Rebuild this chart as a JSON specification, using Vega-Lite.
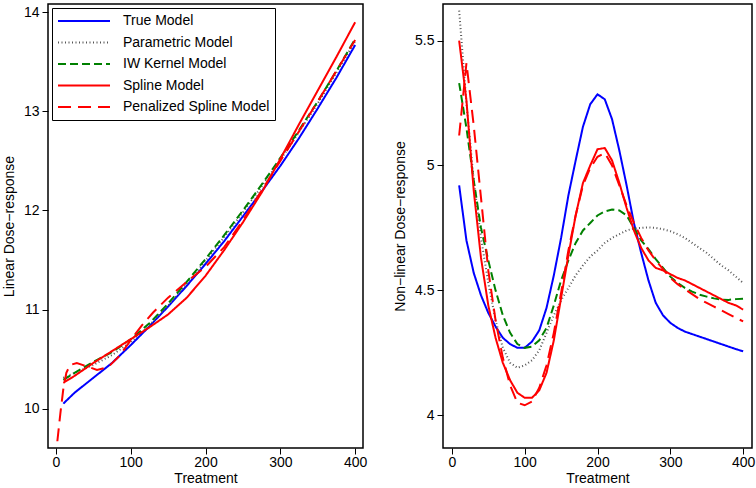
{
  "$schema": "https://vega.github.io/schema/vega-lite/v6.json",
  "background": "white",
  "padding": {"left": 1, "top": 3, "right": 0, "bottom": 0},
  "spacing": 24,
  "config": {
    "font": "Liberation Sans",
    "view": {"stroke": "black", "strokeWidth": 1.5},
    "axis": {"domain": false, "grid": false, "tickColor": "black", "tickSize": 6, "tickWidth": 1, "labelFontSize": 14, "labelColor": "black", "labelFont": "Liberation Sans", "titleFont": "Liberation Sans", "titleFontSize": 14, "titleFontWeight": "normal", "titleColor": "black", "labelPadding": 3},
    "axisX": {"titlePadding": 2, "labelPadding": 1},
    "axisY": {"titlePadding": 7}
  },
  "resolve": {"scale": {"color": "independent", "strokeDash": "independent"}, "legend": {"color": "independent", "strokeDash": "independent"}},
  "hconcat": [
    {
      "width": 315,
      "height": 444,
      "data": {"values": [
        {"t": 10, "True Model": 10.05, "Parametric Model": 10.31, "IW Kernel Model": 10.29, "Spline Model": 10.26, "Penalized Spline Model": 10.20},
        {"t": 2, "Penalized Spline Model": 9.67},
        {"t": 6, "Penalized Spline Model": 9.95},
        {"t": 14, "Penalized Spline Model": 10.36},
        {"t": 19, "Penalized Spline Model": 10.44},
        {"t": 25, "True Model": 10.16, "Parametric Model": 10.36, "IW Kernel Model": 10.36, "Spline Model": 10.33},
        {"t": 28, "Penalized Spline Model": 10.46},
        {"t": 40, "Penalized Spline Model": 10.43},
        {"t": 50, "True Model": 10.31, "Parametric Model": 10.44, "IW Kernel Model": 10.47, "Spline Model": 10.46},
        {"t": 55, "Penalized Spline Model": 10.39},
        {"t": 70, "Penalized Spline Model": 10.42},
        {"t": 75, "True Model": 10.46, "Parametric Model": 10.54, "IW Kernel Model": 10.57, "Spline Model": 10.58},
        {"t": 85, "Penalized Spline Model": 10.53},
        {"t": 100, "True Model": 10.64, "Parametric Model": 10.67, "IW Kernel Model": 10.70, "Spline Model": 10.70, "Penalized Spline Model": 10.69},
        {"t": 115, "Penalized Spline Model": 10.84},
        {"t": 125, "True Model": 10.83, "Parametric Model": 10.84, "IW Kernel Model": 10.86, "Spline Model": 10.82},
        {"t": 130, "Penalized Spline Model": 10.97},
        {"t": 150, "True Model": 11.03, "Parametric Model": 11.04, "IW Kernel Model": 11.06, "Spline Model": 10.95, "Penalized Spline Model": 11.12},
        {"t": 175, "True Model": 11.24, "Parametric Model": 11.26, "IW Kernel Model": 11.28, "Spline Model": 11.12, "Penalized Spline Model": 11.28},
        {"t": 200, "True Model": 11.46, "Parametric Model": 11.49, "IW Kernel Model": 11.51, "Spline Model": 11.34, "Penalized Spline Model": 11.43},
        {"t": 225, "True Model": 11.69, "Parametric Model": 11.73, "IW Kernel Model": 11.75, "Spline Model": 11.60, "Penalized Spline Model": 11.63},
        {"t": 250, "True Model": 11.94, "Parametric Model": 11.98, "IW Kernel Model": 12.00, "Spline Model": 11.88, "Penalized Spline Model": 11.90},
        {"t": 275, "True Model": 12.19, "Parametric Model": 12.24, "IW Kernel Model": 12.26, "Spline Model": 12.18, "Penalized Spline Model": 12.20},
        {"t": 300, "True Model": 12.45, "Parametric Model": 12.51, "IW Kernel Model": 12.53, "Spline Model": 12.52, "Penalized Spline Model": 12.50},
        {"t": 325, "True Model": 12.73, "Parametric Model": 12.79, "IW Kernel Model": 12.81, "Spline Model": 12.87, "Penalized Spline Model": 12.80},
        {"t": 350, "True Model": 13.03, "Parametric Model": 13.08, "IW Kernel Model": 13.10, "Spline Model": 13.21, "Penalized Spline Model": 13.10},
        {"t": 375, "True Model": 13.34, "Parametric Model": 13.39, "IW Kernel Model": 13.41, "Spline Model": 13.55, "Penalized Spline Model": 13.41},
        {"t": 400, "True Model": 13.67, "Parametric Model": 13.71, "IW Kernel Model": 13.73, "Spline Model": 13.90, "Penalized Spline Model": 13.72}
      ]},
      "transform": [
        {"fold": ["True Model", "Parametric Model", "IW Kernel Model", "Spline Model", "Penalized Spline Model"], "as": ["model", "v"]},
        {"filter": "isValid(datum.v)"}
      ],
      "mark": {"type": "line", "strokeWidth": 2, "clip": true},
      "encoding": {
        "x": {"field": "t", "type": "quantitative", "scale": {"domain": [-10.5, 410.5], "nice": false, "zero": false}, "axis": {"values": [0, 100, 200, 300, 400], "title": "Treatment"}},
        "y": {"field": "v", "type": "quantitative", "scale": {"domain": [9.602, 14.084], "nice": false, "zero": false}, "axis": {"values": [10, 11, 12, 13, 14], "title": "Linear Dose−response"}},
        "color": {"field": "model", "type": "nominal",
          "scale": {"domain": ["True Model", "Parametric Model", "IW Kernel Model", "Spline Model", "Penalized Spline Model"], "range": ["#0000ff", "#555555", "#008000", "#ff0000", "#ff0000"]},
          "legend": {"title": null, "orient": "none", "legendX": 4, "legendY": 4, "symbolType": "stroke", "symbolSize": 2704, "symbolStrokeWidth": 2, "clipHeight": 16, "labelFontSize": 14, "labelFont": "Liberation Sans", "labelColor": "black", "labelOffset": 12, "labelLimit": 300, "rowPadding": 5.5, "padding": 5, "strokeColor": "black", "fillColor": "white"}},
        "strokeDash": {"field": "model", "type": "nominal",
          "scale": {"domain": ["True Model", "Parametric Model", "IW Kernel Model", "Spline Model", "Penalized Spline Model"], "range": [[1, 0], [1, 2.5], [8, 4], [1, 0], [13, 7]]},
          "legend": {"title": null, "orient": "none", "legendX": 4, "legendY": 4, "symbolType": "stroke", "symbolSize": 2704, "symbolStrokeWidth": 2, "clipHeight": 16, "labelFontSize": 14, "labelFont": "Liberation Sans", "labelColor": "black", "labelOffset": 12, "labelLimit": 300, "rowPadding": 5.5, "padding": 5, "strokeColor": "black", "fillColor": "white"}}
      }
    },
    {
      "width": 309,
      "height": 444,
      "data": {"values": [
        {"t": 10, "True Model": 4.92, "Parametric Model": 5.62, "IW Kernel Model": 5.33, "Spline Model": 5.50, "Penalized Spline Model": 5.12},
        {"t": 20, "True Model": 4.70, "Parametric Model": 5.25, "IW Kernel Model": 5.15, "Spline Model": 5.26, "Penalized Spline Model": 5.41},
        {"t": 30, "True Model": 4.57, "Parametric Model": 4.94, "IW Kernel Model": 4.94, "Spline Model": 4.90, "Penalized Spline Model": 5.16},
        {"t": 40, "True Model": 4.48, "Parametric Model": 4.71, "IW Kernel Model": 4.75, "Spline Model": 4.63, "Penalized Spline Model": 4.87},
        {"t": 50, "True Model": 4.41, "Parametric Model": 4.53, "IW Kernel Model": 4.62, "Spline Model": 4.44, "Penalized Spline Model": 4.58},
        {"t": 60, "True Model": 4.355, "Parametric Model": 4.38, "IW Kernel Model": 4.50, "Spline Model": 4.31, "Penalized Spline Model": 4.38},
        {"t": 70, "True Model": 4.31, "Parametric Model": 4.27, "IW Kernel Model": 4.40, "Spline Model": 4.21, "Penalized Spline Model": 4.23},
        {"t": 80, "True Model": 4.285, "Parametric Model": 4.21, "IW Kernel Model": 4.33, "Spline Model": 4.14, "Penalized Spline Model": 4.12},
        {"t": 90, "True Model": 4.27, "Parametric Model": 4.19, "IW Kernel Model": 4.285, "Spline Model": 4.09, "Penalized Spline Model": 4.05},
        {"t": 100, "True Model": 4.27, "Parametric Model": 4.20, "IW Kernel Model": 4.27, "Spline Model": 4.07, "Penalized Spline Model": 4.04},
        {"t": 110, "True Model": 4.295, "Parametric Model": 4.22, "IW Kernel Model": 4.275, "Spline Model": 4.07, "Penalized Spline Model": 4.055},
        {"t": 120, "True Model": 4.34, "Parametric Model": 4.26, "IW Kernel Model": 4.30, "Spline Model": 4.10, "Penalized Spline Model": 4.11},
        {"t": 130, "True Model": 4.43, "Parametric Model": 4.33, "IW Kernel Model": 4.35, "Spline Model": 4.17, "Penalized Spline Model": 4.20},
        {"t": 140, "True Model": 4.56, "Parametric Model": 4.40, "IW Kernel Model": 4.44, "Spline Model": 4.30, "Penalized Spline Model": 4.33},
        {"t": 150, "True Model": 4.71, "Parametric Model": 4.46, "IW Kernel Model": 4.54, "Spline Model": 4.47, "Penalized Spline Model": 4.49},
        {"t": 160, "True Model": 4.88, "Parametric Model": 4.51, "IW Kernel Model": 4.62, "Spline Model": 4.64, "Penalized Spline Model": 4.66},
        {"t": 170, "True Model": 5.02, "Parametric Model": 4.56, "IW Kernel Model": 4.69, "Spline Model": 4.80, "Penalized Spline Model": 4.80},
        {"t": 180, "True Model": 5.155, "Parametric Model": 4.60, "IW Kernel Model": 4.74, "Spline Model": 4.93, "Penalized Spline Model": 4.92},
        {"t": 190, "True Model": 5.245, "Parametric Model": 4.635, "IW Kernel Model": 4.77, "Spline Model": 5.00, "Penalized Spline Model": 4.99},
        {"t": 200, "True Model": 5.285, "Parametric Model": 4.66, "IW Kernel Model": 4.80, "Spline Model": 5.065, "Penalized Spline Model": 5.035},
        {"t": 210, "True Model": 5.265, "Parametric Model": 4.69, "IW Kernel Model": 4.816, "Spline Model": 5.07, "Penalized Spline Model": 5.05},
        {"t": 220, "True Model": 5.185, "Parametric Model": 4.71, "IW Kernel Model": 4.824, "Spline Model": 5.02, "Penalized Spline Model": 5.00},
        {"t": 230, "True Model": 5.06, "Parametric Model": 4.725, "IW Kernel Model": 4.82, "Spline Model": 4.93, "Penalized Spline Model": 4.92},
        {"t": 240, "True Model": 4.92, "Parametric Model": 4.74, "IW Kernel Model": 4.80, "Spline Model": 4.83, "Penalized Spline Model": 4.84},
        {"t": 250, "True Model": 4.77, "Parametric Model": 4.748, "IW Kernel Model": 4.75, "Spline Model": 4.74, "Penalized Spline Model": 4.77},
        {"t": 260, "True Model": 4.65, "Parametric Model": 4.75, "IW Kernel Model": 4.70, "Spline Model": 4.67, "Penalized Spline Model": 4.71},
        {"t": 270, "True Model": 4.54, "Parametric Model": 4.752, "IW Kernel Model": 4.665, "Spline Model": 4.62, "Penalized Spline Model": 4.66},
        {"t": 280, "True Model": 4.45, "Parametric Model": 4.75, "IW Kernel Model": 4.625, "Spline Model": 4.59, "Penalized Spline Model": 4.62},
        {"t": 290, "True Model": 4.40, "Parametric Model": 4.745, "IW Kernel Model": 4.59, "Spline Model": 4.58, "Penalized Spline Model": 4.585},
        {"t": 300, "True Model": 4.37, "Parametric Model": 4.737, "IW Kernel Model": 4.555, "Spline Model": 4.565, "Penalized Spline Model": 4.55},
        {"t": 310, "True Model": 4.35, "Parametric Model": 4.725, "IW Kernel Model": 4.53, "Spline Model": 4.55, "Penalized Spline Model": 4.525},
        {"t": 320, "True Model": 4.335, "Parametric Model": 4.71, "IW Kernel Model": 4.51, "Spline Model": 4.54, "Penalized Spline Model": 4.505},
        {"t": 330, "True Model": 4.325, "Parametric Model": 4.69, "IW Kernel Model": 4.495, "Spline Model": 4.525, "Penalized Spline Model": 4.485},
        {"t": 340, "True Model": 4.315, "Parametric Model": 4.67, "IW Kernel Model": 4.483, "Spline Model": 4.51, "Penalized Spline Model": 4.465},
        {"t": 350, "True Model": 4.305, "Parametric Model": 4.65, "IW Kernel Model": 4.475, "Spline Model": 4.495, "Penalized Spline Model": 4.45},
        {"t": 360, "True Model": 4.295, "Parametric Model": 4.625, "IW Kernel Model": 4.468, "Spline Model": 4.48, "Penalized Spline Model": 4.435},
        {"t": 370, "True Model": 4.285, "Parametric Model": 4.60, "IW Kernel Model": 4.463, "Spline Model": 4.465, "Penalized Spline Model": 4.42},
        {"t": 380, "True Model": 4.275, "Parametric Model": 4.58, "IW Kernel Model": 4.462, "Spline Model": 4.45, "Penalized Spline Model": 4.405},
        {"t": 390, "True Model": 4.265, "Parametric Model": 4.555, "IW Kernel Model": 4.465, "Spline Model": 4.44, "Penalized Spline Model": 4.39},
        {"t": 400, "True Model": 4.256, "Parametric Model": 4.53, "IW Kernel Model": 4.467, "Spline Model": 4.423, "Penalized Spline Model": 4.376}
      ]},
      "transform": [
        {"fold": ["True Model", "Parametric Model", "IW Kernel Model", "Spline Model", "Penalized Spline Model"], "as": ["model", "v"]},
        {"filter": "isValid(datum.v)"}
      ],
      "mark": {"type": "line", "strokeWidth": 2, "clip": true},
      "encoding": {
        "x": {"field": "t", "type": "quantitative", "scale": {"domain": [-12.2, 412.2], "nice": false, "zero": false}, "axis": {"values": [0, 100, 200, 300, 400], "title": "Treatment"}},
        "y": {"field": "v", "type": "quantitative", "scale": {"domain": [3.869, 5.6465], "nice": false, "zero": false}, "axis": {"values": [4, 4.5, 5, 5.5], "format": "~g", "title": "Non−linear Dose−response"}},
        "color": {"field": "model", "type": "nominal",
          "scale": {"domain": ["True Model", "Parametric Model", "IW Kernel Model", "Spline Model", "Penalized Spline Model"], "range": ["#0000ff", "#555555", "#008000", "#ff0000", "#ff0000"]},
          "legend": null},
        "strokeDash": {"field": "model", "type": "nominal",
          "scale": {"domain": ["True Model", "Parametric Model", "IW Kernel Model", "Spline Model", "Penalized Spline Model"], "range": [[1, 0], [1, 2.5], [8, 4], [1, 0], [13, 7]]},
          "legend": null}
      }
    }
  ]
}
